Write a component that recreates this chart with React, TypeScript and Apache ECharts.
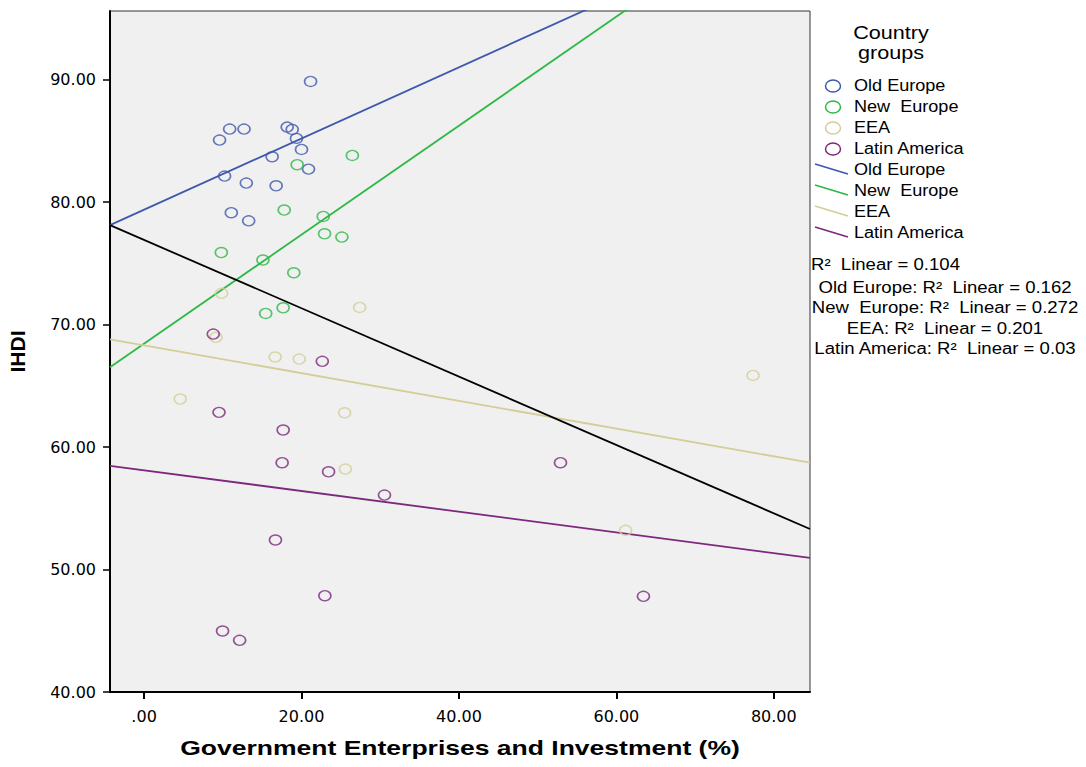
import React, { useEffect, useRef } from "react";
import * as echarts from "echarts";

// Country groups and their colours
const groups = ["Old Europe", "New Europe", "EEA", "Latin America"];
const groupLegendLabels = ["Old Europe", "New  Europe", "EEA", "Latin America"];
const groupColors = ["#3e58ac", "#2eb848", "#d3ce97", "#7c287d"];

// Government Enterprises and Investment (%) vs IHDI per country
const oldEuropeX = [21.15, 10.87, 12.7, 9.59, 18.18, 18.82, 19.36, 20.0, 16.27, 20.89, 10.23, 12.99, 16.78, 11.08, 13.29];
const oldEuropeY = [89.85, 85.96, 85.96, 85.06, 86.12, 85.93, 85.2, 84.3, 83.7, 82.69, 82.12, 81.55, 81.33, 79.13, 78.47];

const newEuropeX = [26.46, 19.45, 17.8, 22.76, 22.93, 25.13, 9.81, 15.1, 19.02, 17.67, 15.45];
const newEuropeY = [83.81, 83.05, 79.35, 78.83, 77.41, 77.14, 75.88, 75.27, 74.23, 71.37, 70.91];

const eeaX = [9.85, 9.13, 27.39, 16.65, 19.71, 4.59, 25.48, 25.57, 77.36, 61.18];
const eeaY = [72.55, 68.96, 71.4, 67.35, 67.18, 63.92, 62.8, 58.2, 65.85, 53.2];

const latinAmericaX = [8.79, 22.64, 9.52, 17.67, 17.54, 23.44, 30.54, 16.69, 22.97, 9.97, 12.14, 52.9, 63.44];
const latinAmericaY = [69.22, 67.0, 62.83, 61.39, 58.72, 57.98, 56.08, 52.41, 47.86, 44.98, 44.22, 58.72, 47.81];

const groupX = [oldEuropeX, newEuropeX, eeaX, latinAmericaX];
const groupY = [oldEuropeY, newEuropeY, eeaY, latinAmericaY];

// Linear fits: intercept and slope (total sample, then by group)
const totalFit = { intercept: 76.91, slope: -0.279 };
const groupIntercepts = [79.38, 68.44, 68.3, 58.1];
const groupSlopes = [0.2907, 0.445, -0.1132, -0.0845];

const r2Total = "R²  Linear = 0.104";
const r2Groups = [
  "Old Europe: R²  Linear = 0.162",
  "New  Europe: R²  Linear = 0.272",
  "EEA: R²  Linear = 0.201",
  "Latin America: R²  Linear = 0.03",
];

const xTitle = "Government Enterprises and Investment (%)";
const yTitle = "IHDI";
const legendTitle = ["Country", "groups"];

// Axis ranges and tick values
const xMin = -4.33;
const xMax = 84.6;
const yMin = 40;
const yMax = 95.6;
const xTicks = [0, 20, 40, 60, 80];
const yTicks = [40, 50, 60, 70, 80, 90];

const FONT = "'Liberation Sans', Arial, sans-serif";
const TICK_FONT = "'DejaVu Sans', sans-serif";

const fitLine = (a: number, b: number) => [
  [xMin, a + b * xMin],
  [xMax, a + b * xMax],
];

// width of a text in a given font, used to stretch the axis title
const measure = (text: string, font: string) => {
  const ctx = document.createElement("canvas").getContext("2d");
  if (!ctx) return text.length * 10;
  ctx.font = font;
  return ctx.measureText(text).width;
};

export default function App() {
  const ref = useRef<HTMLDivElement>(null);

  useEffect(() => {
    if (!ref.current) return;
    const chart = echarts.init(ref.current, null, { renderer: "svg" });

    const scatterSeries = groups.map((g, i) => ({
      name: g,
      type: "scatter",
      data: groupX[i].map((x, k) => [x, groupY[i][k]]),
      symbol: "circle",
      symbolSize: [12, 10],
      itemStyle: {
        color: "rgba(0,0,0,0)",
        borderColor: groupColors[i],
        borderWidth: 1.5,
      },
      z: 3,
    }));

    const groupLineSeries = groups.map((g, i) => ({
      name: g + " fit",
      type: "line",
      data: fitLine(groupIntercepts[i], groupSlopes[i]),
      showSymbol: false,
      clip: true,
      lineStyle: { color: groupColors[i], width: 1.8 },
      z: 2,
    }));

    const totalLineSeries = {
      name: "Total fit",
      type: "line",
      data: fitLine(totalFit.intercept, totalFit.slope),
      showSymbol: false,
      clip: true,
      lineStyle: { color: "#000", width: 1.8 },
      z: 2,
    };

    const legendFont = `16px ${FONT}`;
    const legendScale = 1.13;
    const r2Scale = 1.16;
    const titleFontStr = `bold 20px ${FONT}`;
    const titleScale = 560 / measure(xTitle, titleFontStr);

    const legendX = 833;
    const textX = 854;
    const rowStart = 86;
    const rowStep = 21;
    const elements: any[] = [
      {
        type: "text",
        x: 460,
        y: 748,
        scaleX: titleScale,
        style: { text: xTitle, font: titleFontStr, fill: "#000", align: "center", verticalAlign: "middle" },
      },
    ];
    legendTitle.forEach((t, i) => {
      elements.push({
        type: "text",
        x: 891,
        y: 33 + i * 20,
        scaleX: 1.2,
        style: { text: t, font: `18px ${FONT}`, fill: "#000", align: "center", verticalAlign: "middle" },
      });
    });
    groups.forEach((g, i) => {
      const cy = rowStart + i * rowStep;
      elements.push({
        type: "ellipse",
        shape: { cx: legendX, cy, rx: 7.5, ry: 6 },
        style: { fill: "none", stroke: groupColors[i], lineWidth: 1.5 },
      });
      elements.push({
        type: "text",
        x: textX,
        y: cy,
        scaleX: legendScale,
        style: { text: groupLegendLabels[i], font: legendFont, fill: "#000", verticalAlign: "middle" },
      });
    });
    groups.forEach((g, i) => {
      const cy = rowStart + (i + 4) * rowStep;
      elements.push({
        type: "line",
        shape: { x1: 815, y1: cy - 6, x2: 848, y2: cy + 4 },
        style: { stroke: groupColors[i], lineWidth: 1.8 },
      });
      elements.push({
        type: "text",
        x: textX,
        y: cy,
        scaleX: legendScale,
        style: { text: groupLegendLabels[i], font: legendFont, fill: "#000", verticalAlign: "middle" },
      });
    });
    elements.push({
      type: "text",
      x: 811,
      y: 264,
      scaleX: r2Scale,
      style: { text: r2Total, font: `16px ${FONT}`, fill: "#000", verticalAlign: "middle" },
    });
    r2Groups.forEach((t, i) => {
      elements.push({
        type: "text",
        x: 945,
        y: 287 + i * 20.5,
        scaleX: r2Scale,
        style: { text: t, font: `16px ${FONT}`, fill: "#000", align: "center", verticalAlign: "middle" },
      });
    });

    chart.setOption({
      animation: false,
      backgroundColor: "#fff",
      textStyle: { fontFamily: FONT },
      grid: {
        left: 110,
        right: 276,
        top: 11,
        bottom: 75,
        containLabel: false,
        outerBoundsMode: "none",
        show: true,
        backgroundColor: "#f0f0f0",
        borderColor: "#333",
        borderWidth: 1,
      },
      xAxis: {
        type: "value",
        min: xMin,
        max: xMax,
        axisLine: { show: true, onZero: false, lineStyle: { color: "#000", width: 2 } },
        axisTick: { show: true, length: 7, customValues: xTicks, lineStyle: { color: "#000", width: 2 } },
        axisLabel: {
          customValues: xTicks,
          margin: 16,
          fontSize: 16,
          fontFamily: TICK_FONT,
          color: "#000",
          formatter: (v: number) => (v === 0 ? ".00" : v.toFixed(2)),
        },
        splitLine: { show: false },
      },
      yAxis: {
        type: "value",
        min: yMin,
        max: yMax,
        name: yTitle,
        nameLocation: "middle",
        nameGap: 82,
        nameTextStyle: { fontSize: 21, fontWeight: "bold", color: "#000", fontFamily: FONT },
        axisLine: { show: true, onZero: false, lineStyle: { color: "#000", width: 2 } },
        axisTick: { show: true, length: 7, customValues: yTicks, lineStyle: { color: "#000", width: 1.5 } },
        axisLabel: {
          customValues: yTicks,
          margin: 14,
          fontSize: 16,
          fontFamily: TICK_FONT,
          color: "#000",
          formatter: (v: number) => v.toFixed(2),
        },
        splitLine: { show: false },
      },
      series: [...groupLineSeries, totalLineSeries, ...scatterSeries],
      graphic: elements,
    });

    return () => chart.dispose();
  }, []);

  return (
    <div
      ref={ref}
      style={{ position: "absolute", left: 0, top: 0, width: 1086, height: 767 }}
    />
  );
}
